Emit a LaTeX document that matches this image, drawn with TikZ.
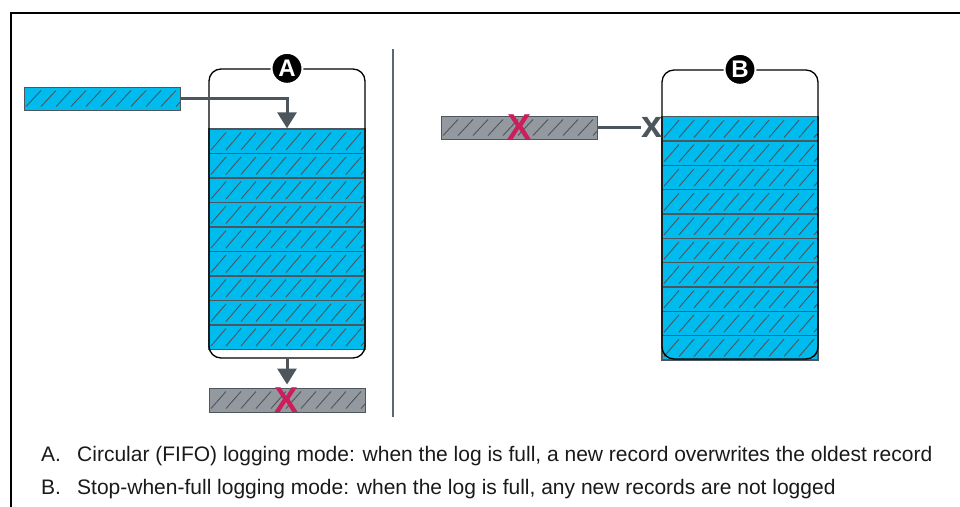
\documentclass[tikz,border=0pt]{standalone}
\usepackage{fontspec}
\setmainfont{Liberation Sans}
\usetikzlibrary{calc,arrows.meta}
\definecolor{cyanfill}{RGB}{0,187,237}
\definecolor{barGray}{RGB}{148,153,160}
\definecolor{darkGray}{RGB}{77,85,93}
\definecolor{xRed}{RGB}{204,30,90}
\definecolor{divGray}{RGB}{95,103,110}
\definecolor{txt}{RGB}{26,26,26}
\begin{document}
\begin{tikzpicture}[x=1pt,y=-1pt,
  hatchline/.style={draw=darkGray, line width=0.9pt},
  hatch/.style={path picture={
    \path (path picture bounding box.south west) coordinate (hsw)
          (path picture bounding box.north east) coordinate (hne);
    \foreach \k in {0,...,10}{
      \draw[hatchline] ($(hsw)+(\k*15+2,-3.5)$) -- ($(hsw|-hne)+(\k*15+17,3.5)$);
    }}},
  recrow/.style={rectangle, inner sep=0pt, minimum width=156pt, fill=cyanfill, draw=darkGray, line width=1.4pt, hatch},
  inbar/.style={rectangle, inner sep=0pt, minimum width=156pt, minimum height=23pt, fill=cyanfill, draw=darkGray, line width=1pt, hatch},
  graybar/.style={inbar, fill=barGray},
  container/.style={rectangle, rounded corners=12pt, draw=black, line width=1.3pt, minimum width=156pt, minimum height=289pt, inner sep=0pt},
  badge/.style={circle, fill=black, draw=white, line width=2pt, minimum size=31pt, inner sep=0pt, text=white, font=\fontsize{24}{24}\selectfont\bfseries},
  conn/.style={draw=darkGray, line width=3pt, -{Triangle[length=16pt,width=19pt]}},
  redx/.style={anchor=base, inner sep=0pt, text=xRed, font=\fontsize{36}{36}\selectfont\bfseries},
  grayx/.style={anchor=base, inner sep=0pt, text=darkGray, font=\fontsize{38}{38}\selectfont\bfseries},
  caption/.style={anchor=base west, inner sep=0pt, text=txt, font=\fontsize{21}{24}\selectfont}
]
\clip (0,0) rectangle (960,506);
\useasboundingbox (0,0) rectangle (960,506);
\fill[white] (0,0) rectangle (960,506);
% frame
\draw[black, line width=2pt] (11,520) -- (11,13) -- (975,13);

% ---------- A ----------
\node[inbar] (inA) at (102,98.5) {};
\foreach \i in {1,...,9}{
  \node[recrow, minimum height=24.5pt] (a\i) at (287,{141.25+(\i-1)*24.5}) {};
}
\node[container] (contA) at (287,213.5) {};
\node[badge] (labA) at (contA.north) {A};
\draw[conn] (inA.east) -| (a1.north);
\node[graybar, minimum height=24pt] (outA) at (287,400) {};
\node[redx] (xA) at (287,412) {X};
\draw[conn] (contA.south) -- ([yshift=3pt]outA.north);

% divider
\coordinate (divTop) at (393,49);
\coordinate (divBot) at (393,417);
\draw[divGray, line width=2pt] (divTop) -- (divBot);

% ---------- B ----------
\foreach \i in {1,...,10}{
  \node[recrow, minimum height=24.33pt] (b\i) at (740,{128.87+(\i-1)*24.33}) {};
}
\node[container] (contB) at (740,214.5) {};
\node[badge] (labB) at (contB.north) {B};
\node[graybar] (inB) at (519,127.5) {};
\node[redx] (xB1) at (519,139) {X};
\node[grayx] (xB) at (652,137) {x};
\draw[darkGray, line width=2.5pt] (inB.east) -- (inB.east -| xB.west);

% ---------- captions ----------
\node[caption] (la) at (41,461.7) {A.};
\node[caption] (ta) at (77,461.7) {Circular (FIFO) logging mode: when the log is full, a new record overwrites the oldest record};
\node[caption] (lb) at (41,494.3) {B.};
\node[caption] (tb) at (77,494.3) {Stop-when-full logging mode: when the log is full, any new records are not logged};
\end{tikzpicture}
\end{document}
